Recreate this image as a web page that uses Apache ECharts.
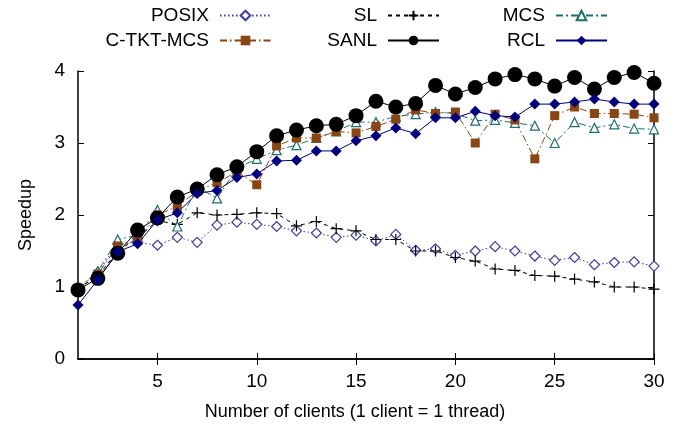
<!DOCTYPE html>
<html>
<head>
<meta charset="utf-8">
<script src="https://cdn.jsdelivr.net/npm/echarts@6/dist/echarts.min.js"></script>
<style>html,body{margin:0;padding:0;background:#fff}#c{width:686px;height:431px}</style>
</head>
<body>
<div id="c"></div>
<script>
const clients = [1,2,3,4,5,6,7,8,9,10,11,12,13,14,15,16,17,18,19,20,21,22,23,24,25,26,27,28,29,30];
const posix = [0.98,1.20,1.60,1.62,1.58,1.69,1.62,1.86,1.90,1.87,1.84,1.78,1.75,1.69,1.72,1.64,1.73,1.51,1.53,1.44,1.50,1.56,1.50,1.43,1.37,1.41,1.31,1.34,1.35,1.29];
const sl = [0.98,1.15,1.50,1.68,1.92,1.87,2.03,2.00,2.01,2.03,2.02,1.85,1.91,1.81,1.78,1.66,1.66,1.50,1.50,1.41,1.36,1.25,1.23,1.16,1.15,1.11,1.07,1.00,1.00,0.97];
const mcs = [0.98,1.22,1.66,1.72,2.07,1.84,2.39,2.23,2.65,2.78,2.90,2.97,3.07,3.16,3.29,3.29,3.37,3.40,3.43,3.41,3.31,3.32,3.28,3.24,3.00,3.29,3.21,3.26,3.20,3.19];
const ctktMcs = [0.98,1.18,1.57,1.65,2.00,2.12,2.33,2.45,2.60,2.42,2.96,3.07,3.07,3.16,3.14,3.23,3.33,3.46,3.41,3.43,3.00,3.40,3.32,2.78,3.38,3.50,3.41,3.41,3.40,3.35];
const sanl = [0.96,1.12,1.47,1.79,1.96,2.25,2.36,2.56,2.67,2.88,3.10,3.18,3.24,3.26,3.38,3.58,3.50,3.55,3.80,3.68,3.77,3.89,3.95,3.89,3.79,3.91,3.75,3.91,3.98,3.83];
const rcl = [0.75,1.10,1.49,1.60,1.93,2.03,2.30,2.34,2.52,2.57,2.75,2.76,2.89,2.89,3.03,3.10,3.21,3.13,3.35,3.35,3.44,3.38,3.36,3.54,3.54,3.57,3.61,3.57,3.54,3.54];
const xTicks = [5,10,15,20,25,30];
const seriesNames = ['POSIX','SL','MCS','C-TKT-MCS','SANL','RCL'];

const FONT = '"Liberation Sans", Arial, Helvetica, sans-serif';
const pairs = arr => arr.map((v,i) => [clients[i], v]);

const styles = {
  'POSIX': {color:'#3c3ca8', dash:[1.5,2.5], symbol:'diamond', size:10, fill:'#ffffff', bw:1.2},
  'SL': {color:'#000000', dash:[4,4], symbol:'path://M0,5L10,5M5,0L5,10', size:11, fill:'transparent', bw:1.2},
  'MCS': {color:'#1f6e6a', dash:[7,3,2,3], symbol:'triangle', size:9, fill:'#ffffff', bw:1.2},
  'C-TKT-MCS': {color:'#8b4513', dash:[7,3,1.5,3], symbol:'rect', size:9, fill:'#8b4513', bw:0},
  'SANL': {color:'#000000', dash:'solid', symbol:'circle', size:15, fill:'#000000', bw:0},
  'RCL': {color:'#000080', dash:'solid', symbol:'diamond', size:11, fill:'#000080', bw:0}
};
const dataMap = {'POSIX':posix,'SL':sl,'MCS':mcs,'C-TKT-MCS':ctktMcs,'SANL':sanl,'RCL':rcl};

const series = seriesNames.map(n => {
  const s = styles[n];
  return {
    name: n, type: 'line', data: pairs(dataMap[n]),
    symbol: s.symbol, symbolSize: s.size, showAllSymbol: true,
    lineStyle: {color: s.color, width: 1, type: s.dash},
    itemStyle: {color: s.fill, borderColor: s.color, borderWidth: s.bw},
    emphasis: {disabled: true}
  };
});

const legendPos = {
  'POSIX': {right: 414, top: 6}, 'SL': {right: 246, top: 6}, 'MCS': {right: 78, top: 6},
  'C-TKT-MCS': {right: 414, top: 31}, 'SANL': {right: 246, top: 31}, 'RCL': {right: 78, top: 31}
};
const legends = seriesNames.map(n => ({
  data: [n], right: legendPos[n].right, top: legendPos[n].top, align: 'right',
  orient: 'horizontal', padding: 0, itemWidth: 51, itemHeight: 12, selectedMode: false,
  textStyle: {fontSize: 19, fontFamily: FONT, color: '#000', padding: [0, 6, 0, 0]}
}));

const axisLine = {show: true, lineStyle: {color: '#000', width: 1.5}};
const option = {
  animation: false,
  backgroundColor: '#fff',
  legend: legends,
  grid: {left: 78, right: 32, top: 71, bottom: 72, containLabel: false},
  xAxis: [
    {type: 'value', min: 1, max: 30, position: 'bottom',
     name: 'Number of clients (1 client = 1 thread)', nameLocation: 'middle', nameGap: 44,
     nameTextStyle: {fontSize: 18, fontFamily: FONT, color: '#000', padding: [0, 22, 0, 0]},
     axisLine: axisLine,
     axisTick: {show: true, inside: true, length: 6, customValues: xTicks, lineStyle: {color: '#000', width: 1}},
     axisLabel: {show: true, customValues: xTicks, fontSize: 19, fontFamily: FONT, color: '#000', margin: 13},
     splitLine: {show: false}},
    {type: 'value', min: 1, max: 30, position: 'top',
     axisLine: axisLine,
     axisTick: {show: true, inside: true, length: 6, customValues: xTicks, lineStyle: {color: '#000', width: 1}},
     axisLabel: {show: false}, splitLine: {show: false}}
  ],
  yAxis: [
    {type: 'value', min: 0, max: 4, interval: 1, position: 'left',
     name: 'Speedup', nameLocation: 'middle', nameGap: 43,
     nameTextStyle: {fontSize: 18, fontFamily: FONT, color: '#000'},
     axisLine: axisLine,
     axisTick: {show: true, inside: true, length: 6, lineStyle: {color: '#000', width: 1}},
     axisLabel: {show: true, fontSize: 19, fontFamily: FONT, color: '#000', margin: 13},
     splitLine: {show: false}},
    {type: 'value', min: 0, max: 4, interval: 1, position: 'right',
     axisLine: axisLine,
     axisTick: {show: true, inside: true, length: 6, lineStyle: {color: '#000', width: 1}},
     axisLabel: {show: false}, splitLine: {show: false}}
  ],
  series: series
};
const chart = echarts.init(document.getElementById('c'), null, {renderer: 'canvas'});
chart.setOption(option);
</script>
</body>
</html>
